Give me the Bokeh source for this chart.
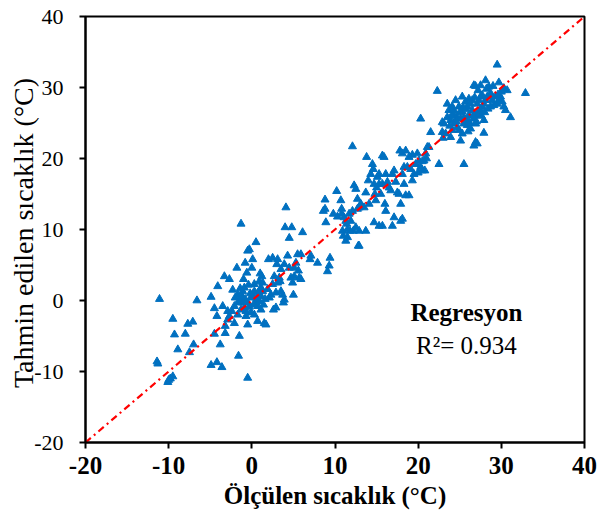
from bokeh.plotting import figure
from bokeh.models import Range1d, FixedTicker, Label, ColumnDataSource
from bokeh.embed import file_html
from bokeh.resources import INLINE

# ---- data (measured vs predicted temperature, °C) ----
low_measured = [-11.1, -11.4, -11.3, -10.0, -9.8, -9.5, -10.1, -9.5, -9.3, -8.9, -8.0, -7.7, -7.1, -7.5, -7.0,
                -6.6, -4.9, -4.1, -4.5, -4.2, -4.5, -3.8, -4.9, -4.2, -3.6, -3.3, -2.7, -3.5, -2.9, -2.7,
                -3.2, -3.2, -2.9, -2.1, -1.5, -1.6, -0.5, -1.3]
low_predicted = [0.2, -8.6, -8.9, -11.2, -11.0, -10.7, -11.5, -2.6, -4.8, -6.9, -4.7, -3.3, -3.0, -7.3, -6.2,
                 0.0, 0.5, 2.0, -1.1, -2.2, -4.7, -6.2, -9.1, -8.7, -9.4, 3.4, 3.0, -0.8, -1.5, -2.2,
                 -3.6, -4.6, -2.7, -3.2, -5.0, -7.8, -10.9, 10.8]

zero_measured = [-2.0, -1.7, -1.4, -1.1, -0.9, -0.7, -0.5, -0.3, -0.1, 0.1, 0.3, 0.5, 0.7, 0.9, 1.1, 1.3, 1.1,
                 0.9, 1.3, 0.7, 1.5, 1.7, -0.7, -0.5, -1.7, -2.1, -1.1, -0.9, -1.7, -1.3, -0.1, 0.3, 1.1,
                 1.4, 0.3, 1.0, 1.2, 0.0, -0.6, -0.5, -0.3, 0.1, 0.5, -0.8, -1.8, -1.0, -1.4,
                 -0.2, 0.6, -0.8, 0.2, 1.6, 0.8, -1.2, -2.4, -2.3, -0.4]
zero_predicted = [0.4, 0.8, 0.0, -0.3, -1.0, -1.5, -0.3, -0.9, 0.4, 0.8, 1.3, -0.3, -0.8, -0.1, 0.6, 1.3, 1.8,
                  2.7, 2.5, -2.9, -3.2, -3.4, -2.2, -3.4, -2.0, -0.8, 1.3, 1.8, -0.3, -1.3, -1.7, -2.0, -1.3,
                  -0.6, 2.3, 3.8, 3.4, 4.6, 3.9, 7.0, 7.2, 5.8, 8.2, 5.3, 4.6, 3.0, 1.7,
                  1.0, 0.3, 0.2, -0.6, 0.2, 1.2, 0.6, -1.5, 1.5, 2.2]

mid_measured = [2.0, 2.5, 3.1, 3.0, 3.5, 3.3, 2.7, 2.5, 3.1, 3.4, 2.3, 2.1, 2.9, 3.5, 3.7, 3.9, 3.8, 2.9, 2.6,
                1.9, 5.1, 5.3, 5.5, 5.9, 5.1, 5.7, 5.9, 5.6, 5.0, 4.9, 4.5, 4.0, 4.8, 4.1, 6.1, 7.1, 7.0,
                7.9, 9.1, 9.4, 9.3, 4.3, 3.9, 4.5, 4.7]
mid_predicted = [5.8, 6.0, 5.8, 5.1, 4.4, 3.2, 3.4, 2.3, 2.5, 2.7, 0.8, 0.4, 1.1, 1.3, 0.8, 0.1, -0.3, -1.0, -1.3,
                 1.6, 4.6, 5.3, 6.5, 6.5, 3.4, 3.2, 3.0, 4.2, 0.8, 2.5, 8.8, 10.3, 10.3, 13.1, 9.6, 6.3, 5.8,
                 5.3, 4.1, 6.0, 4.9, 6.3, 5.1, 4.6, 3.2]

warm_measured = [8.8, 8.8, 8.6, 8.9, 10.2, 9.8, 10.3, 10.7, 10.8, 10.8, 11.1, 11.3, 11.4, 11.7, 11.9, 12.1,
                 12.1, 12.3, 12.5, 12.7, 12.7, 12.9, 12.8, 12.2, 11.5, 11.3, 11.0, 10.9, 11.5, 11.8, 12.5,
                 12.9, 12.9, 13.1, 13.5, 13.7, 13.7, 13.8, 14.0, 14.1, 14.3, 14.5, 14.6, 14.7, 14.8, 14.9,
                 15.0, 15.1, 15.3, 15.3, 15.5, 15.7, 15.7, 15.9, 16.0, 16.1, 16.3, 16.5, 16.7, 16.9, 17.1,
                 17.3, 17.5, 17.7, 17.8, 18.1, 18.5, 18.3, 18.1, 18.3, 18.5, 18.7, 18.9, 19.1, 19.3, 19.5,
                 19.9, 20.1, 20.3, 20.5, 20.7, 20.9, 21.1, 20.3, 21.5, 22.5, 25.5, 15.7, 15.3, 14.7, 16.1,
                 16.9, 18.1, 17.9, 17.1, 17.9, 18.9, 19.7, 20.5, 20.8, 20.0, 21.0, 19.3]
warm_predicted = [14.2, 12.9, 12.6, 11.0, 15.4, 12.2, 11.8, 14.1, 12.9, 12.2, 11.7, 11.2, 10.8, 12.2, 11.2, 21.7,
                  12.6, 16.2, 15.7, 14.3, 12.9, 9.8, 7.7, 9.8, 8.9, 8.4, 9.1, 9.8, 10.0, 9.8, 10.3,
                  7.7, 13.1, 13.6, 13.1, 15.2, 9.8, 20.2, 16.9, 13.6, 17.8, 19.2, 18.5, 16.4, 15.0, 14.1,
                  15.9, 17.4, 16.4, 17.8, 15.0, 16.4, 20.4, 20.2, 13.6, 17.8, 16.7, 15.9, 15.5, 17.8, 18.3,
                  16.7, 15.2, 15.0, 21.1, 20.7, 21.1, 18.8, 17.8, 16.4, 14.8, 18.8, 20.2, 18.5, 16.9, 17.8,
                  20.7, 19.7, 18.8, 18.3, 19.7, 20.7, 21.6, 25.6, 23.7, 19.2, 19.2, 10.5, 10.5, 11.0, 12.6,
                  10.5, 11.5, 11.2, 11.7, 13.6, 14.8, 19.2, 19.6, 18.3, 18.0, 20.0, 20.5]

hot_measured = [22.3, 29.5, 32.9, 31.1, 26.7, 26.9, 28.1, 27.5, 28.5, 29.7, 30.3, 30.7, 29.9, 30.1, 29.3, 28.9,
                29.1, 30.3, 30.5, 28.7, 28.3, 28.1, 27.9, 27.7, 27.5, 27.3, 27.9, 27.9, 26.9, 26.7, 27.1,
                25.1, 25.3, 24.7, 24.9, 24.3, 24.1, 23.9, 23.5, 23.7, 23.5, 24.5, 25.3, 25.7, 25.9, 26.3,
                26.5, 26.1, 25.9, 25.5, 25.1, 24.7, 24.3, 23.9, 23.1, 22.9, 23.3, 22.9, 24.3, 24.1, 24.9,
                25.3, 25.5, 25.9, 26.3, 26.7, 26.9, 27.1, 26.5, 26.1, 27.1, 27.3, 27.5, 27.7, 28.7, 29.5,
                29.7, 23.0, 21.3, 25.0, 25.8, 26.2, 26.6, 27.0, 27.6, 28.0, 28.4, 28.8, 24.6, 25.4, 26.8,
                27.2, 28.2, 29.0, 29.6, 30.0, 24.0, 23.8, 26.0]
hot_predicted = [29.5, 33.2, 29.2, 25.8, 30.3, 30.2, 31.0, 30.3, 30.1, 30.7, 29.9, 29.6, 28.7, 28.0, 28.7, 28.2,
                 27.5, 27.3, 26.8, 29.2, 28.7, 28.2, 27.7, 27.3, 26.8, 26.1, 25.4, 23.6, 22.3, 21.8, 22.1,
                 22.5, 23.5, 24.4, 24.0, 24.9, 24.0, 23.0, 25.8, 26.8, 27.7, 28.2, 28.7, 28.0, 27.3, 27.7,
                 26.8, 26.1, 25.4, 24.9, 25.6, 25.8, 26.1, 25.4, 24.9, 23.7, 23.5, 25.1, 26.8, 27.3, 27.3,
                 26.6, 25.8, 24.7, 24.2, 25.6, 24.9, 26.3, 28.2, 28.4, 27.7, 28.2, 28.7, 28.9, 27.3, 27.7,
                 28.2, 22.9, 21.6, 26.5, 26.9, 25.0, 26.0, 25.2, 26.0, 26.5, 27.0, 28.8, 25.2, 27.2, 28.6,
                 29.6, 29.8, 30.2, 29.0, 29.4, 26.0, 24.6, 23.8]

one_to_one = [-20, 40]
ticks = [-20, -10, 0, 10, 20, 30, 40]
tick_labels = ["-20", "-10", "0", "10", "20", "30", "40"]
x_title = "Ölçülen sıcaklık (°C)"
y_title = "Tahmin edilen sıcaklık  (°C)"
reg_title = "Regresyon"
reg_text = "R²= 0.934"
reg_pos = (25.8, -1.7, -6.4)

measured = low_measured + zero_measured + mid_measured + warm_measured + hot_measured
predicted = low_predicted + zero_predicted + mid_predicted + warm_predicted + hot_predicted

FONT = "Liberation Serif"
BLUE = "#0070C0"

p = figure(width=597, height=521, output_backend="svg", toolbar_location=None,
           x_range=Range1d(-20, 40), y_range=Range1d(-20, 40),
           min_border_left=85, min_border_right=13, min_border_top=16, min_border_bottom=79)
p.grid.visible = False
p.outline_line_color = "black"
p.outline_line_width = 2
p.outline_line_alpha = 1
p.background_fill_color = "white"
p.border_fill_color = "white"

src = ColumnDataSource(dict(x=measured, y=predicted))
p.scatter("x", "y", source=src, marker="triangle", size=8,
          fill_color=BLUE, line_color=BLUE)
p.line(one_to_one, one_to_one, line_color="#FF0000", line_width=2.2, line_dash="7 4 2 4")

overrides = {t: l for t, l in zip(ticks, tick_labels)}
for ax in (p.xaxis[0], p.yaxis[0]):
    ax.ticker = FixedTicker(ticks=ticks)
    ax.major_label_overrides = overrides
    ax.axis_line_color = "black"
    ax.axis_line_width = 2
    ax.major_tick_line_color = "black"
    ax.major_tick_line_width = 2
    ax.major_tick_out = 6
    ax.major_tick_in = 0
    ax.minor_tick_line_color = None
    ax.major_label_text_font = FONT
    ax.major_label_text_color = "black"
    ax.axis_label_text_font = FONT
    ax.axis_label_text_color = "black"

p.xaxis.axis_label = x_title
p.xaxis.axis_label_text_font_style = "bold"
p.xaxis.axis_label_text_font_size = "25px"
p.xaxis.major_label_text_font_style = "bold"
p.xaxis.major_label_text_font_size = "25px"
p.xaxis.major_label_standoff = 8
p.xaxis.axis_label_standoff = 5

p.yaxis.axis_label = y_title
p.yaxis.axis_label_text_font_style = "normal"
p.yaxis.axis_label_text_font_size = "28px"
p.yaxis.major_label_text_font_style = "normal"
p.yaxis.major_label_text_font_size = "22px"
p.yaxis.major_label_standoff = 16
p.yaxis.axis_label_standoff = -8

p.add_layout(Label(x=reg_pos[0], y=reg_pos[1], text=reg_title, text_font=FONT,
                   text_font_style="bold", text_font_size="25px", text_align="center",
                   text_baseline="middle", text_color="black"))
p.add_layout(Label(x=reg_pos[0], y=reg_pos[2], text=reg_text, text_font=FONT,
                   text_font_size="25px", text_align="center",
                   text_baseline="middle", text_color="black"))

open("out.html", "w").write(file_html(p, INLINE))
